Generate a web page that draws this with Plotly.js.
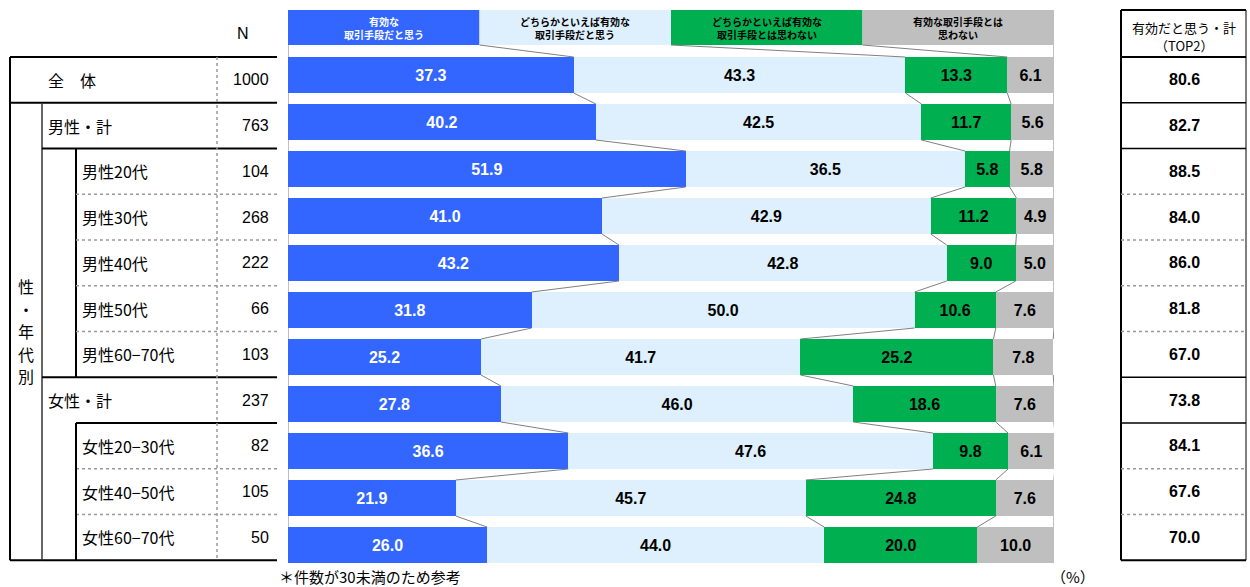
<!DOCTYPE html>
<html><head><meta charset="utf-8">
<script src="https://cdn.plot.ly/plotly-3.0.1.min.js"></script>
<style>html,body{margin:0;padding:0;background:#fff}#chart{width:1250px;height:587px}</style>
</head><body><div id="chart"></div>
<script>
// ---- data ----
const categories = ['全　体','男性・計','男性20代','男性30代','男性40代','男性50代','男性60−70代','女性・計','女性20−30代','女性40−50代','女性60−70代'];
const nValues = [1000,763,104,268,222,66,103,237,82,105,50];
const effective = [37.3,40.2,51.9,41.0,43.2,31.8,25.2,27.8,36.6,21.9,26.0];
const somewhatEffective = [43.3,42.5,36.5,42.9,42.8,50.0,41.7,46.0,47.6,45.7,44.0];
const somewhatNot = [13.3,11.7,5.8,11.2,9.0,10.6,25.2,18.6,9.8,24.8,20.0];
const notEffective = [6.1,5.6,5.8,4.9,5.0,7.6,7.8,7.6,6.1,7.6,10.0];
const top2 = [80.6,82.7,88.5,84.0,86.0,81.8,67.0,73.8,84.1,67.6,70.0];
const seriesNames = ['有効な<br>取引手段だと思う','どちらかといえば有効な<br>取引手段だと思う','どちらかといえば有効な<br>取引手段とは思わない','有効な取引手段とは<br>思わない'];
const top2Title = ['有効だと思う・計','（TOP2）'];
const sideTitle = ['性','・','年','代','別'];
const footNote = '＊件数が30未満のため参考';
const unitNote = '（%）';

// ---- style ----
const W = 1250, H = 587;
const colors = ['#3366FF','#DEF0FD','#00B050','#BFBFBF'];
const textColors = ['#FFFFFF','#000000','#000000','#000000'];
const JP = 'Noto Sans CJK JP';
const NUM = 'Liberation Sans, Arial';
const px = x => x / W;
const py = y => (H - y) / H;
const rowPx = 47, firstRowPx = 75;
const yd = y => (y - firstRowPx) / rowPx;  // pixel -> category coordinate
const halfBar = 18 / rowPx;

const seriesValues = [effective, somewhatEffective, somewhatNot, notEffective];
const traces = seriesValues.map((vals, k) => ({
  type: 'bar', orientation: 'h', x: vals, y: categories,
  name: seriesNames[k].replace('<br>',''),
  marker: {color: colors[k], line: {width: 0}},
  text: vals.map(v => v.toFixed(1)),
  texttemplate: '<b>%{text}</b>',
  textposition: 'inside', insidetextanchor: 'middle', textangle: 0,
  insidetextfont: {family: NUM, size: 16, color: textColors[k]},
  hoverinfo: 'skip', showlegend: false
}));

const shapes = [];
const annotations = [];

// legend header boxes
seriesNames.forEach((nm, k) => {
  shapes.push({type:'rect', xref:'x', yref:'y', x0:25*k, x1:25*(k+1), y0:yd(10), y1:yd(45),
    fillcolor: colors[k], line:{width:0}, layer:'below'});
  annotations.push({xref:'x', yref:'y', x:25*k+12.5, y:yd(28), text:'<b>'+nm+'</b>', showarrow:false,
    font:{family:JP, size:10, color:textColors[k]}, align:'center'});
});

// connector lines
const cum = categories.map((c,i) => {
  const a = [0]; let s = 0;
  seriesValues.forEach(v => { s += v[i]; a.push(s); });
  return a;
});
const conn = {color:'#808080', width:1};
for (let k = 0; k < 5; k++) {
  shapes.push({type:'line', xref:'x', yref:'y', x0:25*k, y0:yd(45), x1:cum[0][k], y1:0-halfBar, line:conn});
}
for (let i = 0; i < categories.length - 1; i++) {
  for (let k = 0; k < 5; k++) {
    shapes.push({type:'line', xref:'x', yref:'y', x0:cum[i][k], y0:i+halfBar, x1:cum[i+1][k], y1:i+1-halfBar, line:conn});
  }
}

// left table
const b = []; for (let k = 0; k <= 11; k++) b.push(57 + 45.75*k);
const solid = {color:'#000', width:2};
const thin = {color:'#333', width:1.5};
const dotted = {color:'#999', width:1.5, dash:'dot'};
function L(x0,y0,x1,y1,line){ shapes.push({type:'line', xref:'paper', yref:'paper', x0:px(x0), y0:py(y0), x1:px(x1), y1:py(y1), line}); }
L(10,b[0],277,b[0],solid);
L(10,b[11],277,b[11],solid);
L(10,b[0],10,b[11],solid);
L(10,b[1],277,b[1],solid);
L(42,b[1],42,b[11],thin);
L(42,b[2],277,b[2],solid);
L(76,b[2],76,b[7],solid);
[3,4,5,6,9,10].forEach(k => L(76,b[k],277,b[k],dotted));
L(42,b[7],277,b[7],solid);
L(76,b[8],277,b[8],solid);
L(76,b[8],76,b[11],solid);
L(217,b[0],217,b[11],dotted);

// right TOP2 box
L(1121,10,1121,b[11],solid);
L(1246,10,1246,b[11],{color:'#000', width:1});
L(1121,10,1246,10,solid);
L(1121,b[0],1246,b[0],solid);
L(1121,b[11],1246,b[11],solid);
[1,2,7,8].forEach(k => L(1121,b[k],1246,b[k],{color:'#000', width:1.5}));
[3,4,5,6,9,10].forEach(k => L(1121,b[k],1246,b[k],dotted));

function T(x,y,text,opts){
  annotations.push(Object.assign({xref:'paper', yref:'paper', x:px(x), y:py(y), text, showarrow:false,
    xanchor:'center', yanchor:'middle', font:{family:JP, size:16, color:'#000'}}, opts||{}));
}
T(243,33,'N',{font:{family:NUM, size:16, color:'#000'}});
categories.forEach((c,i) => {
  const yc = (b[i]+b[i+1])/2;
  const xl = (i === 0 || i === 1 || i === 7) ? 46 : 80;
  T(xl, yc, c, {xanchor:'left'});
  T(271, yc, String(nValues[i]), {xanchor:'right', font:{family:NUM, size:16, color:'#000'}});
  T(1184, yc, '<b>'+top2[i].toFixed(1)+'</b>', {font:{family:NUM, size:16, color:'#000'}});
});
sideTitle.forEach((ch, j) => T(26, 331 + (j-2)*22.5, ch));
T(1184, 27, top2Title[0], {font:{family:JP, size:13, color:'#000'}});
T(1184, 46, top2Title[1], {font:{family:JP, size:13, color:'#000'}});
T(277, 576.5, footNote, {xanchor:'left', font:{family:JP, size:15, color:'#000'}});
T(1073, 576.5, unitNote, {font:{family:JP, size:15, color:'#000'}});

const layout = {
  width: W, height: H, margin:{l:0,r:0,t:0,b:0}, paper_bgcolor:'#fff', plot_bgcolor:'rgba(0,0,0,0)',
  barmode:'stack', bargap: 1 - 36/rowPx, showlegend:false,
  xaxis:{domain:[px(288), px(1054)], range:[0,100], showgrid:false, zeroline:false, showticklabels:false, showline:false, fixedrange:true},
  yaxis:{type:'category', categoryorder:'array', categoryarray:categories, domain:[py(firstRowPx + 10.5*rowPx), py(firstRowPx - 1.5*rowPx)],
    range:[10.5, -1.5], showgrid:false, zeroline:false, showticklabels:false, showline:false, fixedrange:true},
  shapes, annotations
};
Plotly.newPlot('chart', traces, layout, {staticPlot:true, displayModeBar:false});
</script></body></html>
